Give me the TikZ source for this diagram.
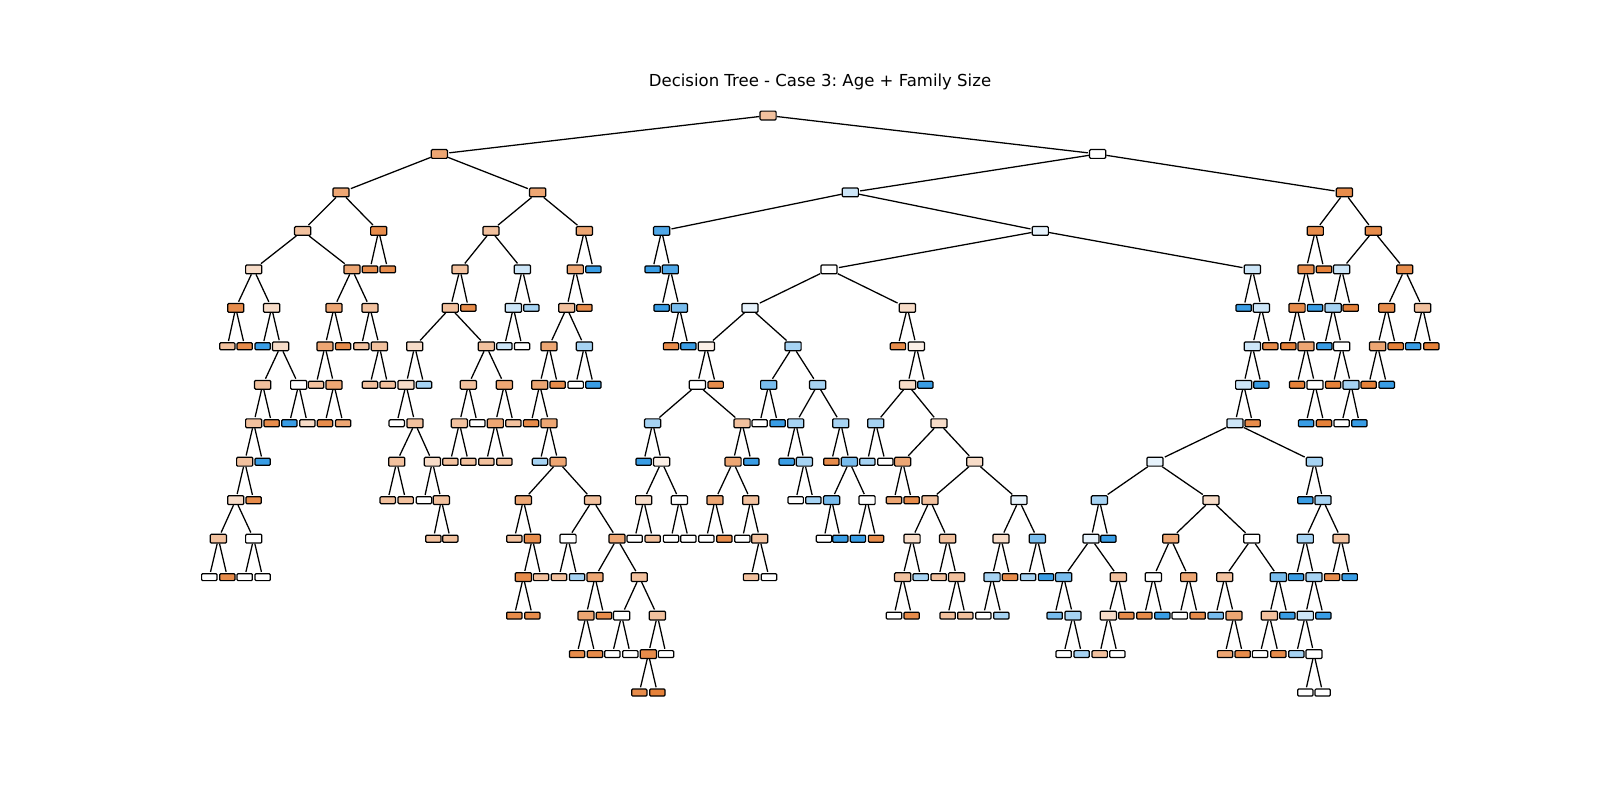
\documentclass[tikz,border=0pt]{standalone}
\usepackage{fontspec}
\setmainfont{DejaVu Sans}
\frenchspacing
\definecolor{oA}{RGB}{229,129,57}
\definecolor{oB}{RGB}{231,140,75}
\definecolor{oC}{RGB}{237,166,115}
\definecolor{oD}{RGB}{242,193,158}
\definecolor{oE}{RGB}{247,220,200}
\definecolor{oF}{RGB}{252,240,231}
\definecolor{wW}{RGB}{255,255,255}
\definecolor{bF}{RGB}{231,243,252}
\definecolor{bE}{RGB}{205,230,248}
\definecolor{bD}{RGB}{166,211,243}
\definecolor{bC}{RGB}{120,188,237}
\definecolor{bB}{RGB}{80,168,232}
\definecolor{bA}{RGB}{57,157,229}
\tikzset{
  inn/.style={draw=black, line width=1.2pt, rounded corners=1pt, minimum width=15.8pt, minimum height=8.6pt, inner sep=0pt},
  lf/.style={draw=black, line width=1.2pt, rounded corners=1pt, minimum width=15pt, minimum height=6.8pt, inner sep=0pt},
  edge/.style={line width=1.25pt, shorten >=1.2pt}
}
\newcommand\TN[6]{%
  \node[#6, fill=#5] (#1) at (#3,{113.2+37.7*#4}) {};
  \draw[edge] (#2) -- (#1);}
\begin{document}
\begin{tikzpicture}[x=1pt,y=-1pt]
\useasboundingbox[fill=white] (0,0) rectangle (1568,784);
\node[anchor=base, font=\fontsize{16.2}{19}\selectfont] (title) at (803.6,84.6) {Decision Tree - Case 3: Age + Family Size};
\node[inn, fill=oD] (r) at (752.7,113.2) {};
\TN{a}{r}{430.6}{1}{oC}{inn}
\TN{b}{r}{1075.7}{1}{wW}{inn}
% ---- a subtree
\TN{aa}{a}{334.2}{2}{oC}{inn}
\TN{ab}{a}{526.9}{2}{oC}{inn}
\TN{aaa}{aa}{296.6}{3}{oD}{inn}
\TN{aab}{aa}{371.1}{3}{oB}{inn}
\TN{aab1}{aab}{362.6}{4}{oB}{lf}
\TN{aab2}{aab}{380}{4}{oB}{lf}
\TN{aaaa}{aaa}{248.6}{4}{oE}{inn}
\TN{aaab}{aaa}{345}{4}{oC}{inn}
\TN{d1}{aaaa}{231}{5}{oB}{inn}
\TN{d2}{aaaa}{266.2}{5}{oE}{inn}
\TN{d11}{d1}{222.8}{6}{oD}{lf}
\TN{d12}{d1}{239.8}{6}{oB}{lf}
\TN{d21}{d2}{257.4}{6}{bA}{lf}
\TN{d22}{d2}{275}{6}{oE}{inn}
\TN{d221}{d22}{257.4}{7}{oD}{inn}
\TN{d222}{d22}{292.7}{7}{wW}{inn}
\TN{d2211}{d221}{248.6}{8}{oD}{inn}
\TN{d2212}{d221}{266.2}{8}{oB}{lf}
\TN{d2221}{d222}{283.6}{8}{bA}{lf}
\TN{d2222}{d222}{301.2}{8}{oE}{lf}
\TN{e1}{d2211}{239.8}{9}{oD}{inn}
\TN{e2}{d2211}{257.4}{9}{bA}{lf}
\TN{e11}{e1}{231}{10}{oE}{inn}
\TN{e12}{e1}{248.6}{10}{oB}{lf}
\TN{e111}{e11}{214}{11}{oD}{inn}
\TN{e112}{e11}{248.6}{11}{wW}{inn}
\TN{e1111}{e111}{205.1}{12}{wW}{lf}
\TN{e1112}{e111}{222.8}{12}{oB}{lf}
\TN{e1121}{e112}{239.8}{12}{wW}{lf}
\TN{e1122}{e112}{257.4}{12}{wW}{lf}
\TN{f1}{aaab}{327.3}{5}{oC}{inn}
\TN{f2}{aaab}{362.6}{5}{oD}{inn}
\TN{f11}{f1}{318.5}{6}{oC}{inn}
\TN{f12}{f1}{336.2}{6}{oB}{lf}
\TN{f111}{f11}{309.7}{7}{oD}{lf}
\TN{f112}{f11}{327.3}{7}{oC}{inn}
\TN{f1121}{f112}{318.5}{8}{oB}{lf}
\TN{f1122}{f112}{336.2}{8}{oC}{lf}
\TN{f21}{f2}{354.1}{6}{oD}{lf}
\TN{f22}{f2}{371.8}{6}{oD}{inn}
\TN{f221}{f22}{362.6}{7}{oD}{lf}
\TN{f222}{f22}{380}{7}{oD}{lf}
\TN{aba}{ab}{481.2}{3}{oD}{inn}
\TN{abb}{ab}{572.7}{3}{oC}{inn}
\TN{abaa}{aba}{450.8}{4}{oD}{inn}
\TN{abab}{aba}{511.9}{4}{bE}{inn}
\TN{g1}{abaa}{441.3}{5}{oD}{inn}
\TN{g2}{abaa}{459}{5}{oB}{lf}
\TN{g11}{g1}{406.4}{6}{oE}{inn}
\TN{g12}{g1}{476.6}{6}{oD}{inn}
\TN{g111}{g11}{397.9}{7}{oE}{inn}
\TN{g112}{g11}{415.5}{7}{bD}{lf}
\TN{g1111}{g111}{388.8}{8}{wW}{lf}
\TN{g1112}{g111}{406.7}{8}{oD}{inn}
\TN{g11121}{g1112}{388.8}{9}{oD}{inn}
\TN{g11122}{g1112}{423.7}{9}{oE}{inn}
\TN{h1}{g11121}{380}{10}{oD}{lf}
\TN{h2}{g11121}{397.6}{10}{oD}{lf}
\TN{h3}{g11122}{415.5}{10}{wW}{lf}
\TN{h4}{g11122}{432.5}{10}{oD}{inn}
\TN{h41}{h4}{424.7}{11}{oD}{lf}
\TN{h42}{h4}{441.3}{11}{oD}{lf}
\TN{g121}{g12}{459}{7}{oD}{inn}
\TN{g122}{g12}{494.3}{7}{oC}{inn}
\TN{g1211}{g121}{450.2}{8}{oD}{inn}
\TN{g1212}{g121}{467.8}{8}{wW}{lf}
\TN{i1}{g1211}{441.3}{9}{oD}{lf}
\TN{i2}{g1211}{459}{9}{oD}{lf}
\TN{g1221}{g122}{485.4}{8}{oC}{inn}
\TN{g1222}{g122}{503.1}{8}{oD}{lf}
\TN{i3}{g1221}{476.6}{9}{oD}{lf}
\TN{i4}{g1221}{494.3}{9}{oD}{lf}
\TN{j1}{abab}{503.1}{5}{bE}{inn}
\TN{j2}{abab}{520.7}{5}{bD}{lf}
\TN{j11}{j1}{494.3}{6}{bE}{lf}
\TN{j12}{j1}{511.6}{6}{wW}{lf}
\TN{abba}{abb}{563.8}{4}{oC}{inn}
\TN{abbb}{abb}{581.5}{4}{bA}{lf}
\TN{k1}{abba}{555.4}{5}{oD}{inn}
\TN{k2}{abba}{572.7}{5}{oB}{lf}
\TN{k11}{k1}{538}{6}{oC}{inn}
\TN{k12}{k1}{572.7}{6}{bD}{inn}
\TN{k121}{k12}{564.2}{7}{wW}{lf}
\TN{k122}{k12}{581.5}{7}{bA}{lf}
\TN{k111}{k11}{528.9}{7}{oC}{inn}
\TN{k112}{k11}{546.5}{7}{oB}{lf}
\TN{k1111}{k111}{520.4}{8}{oB}{lf}
\TN{k1112}{k111}{538}{8}{oC}{inn}
\TN{m1}{k1112}{529.2}{9}{bD}{lf}
\TN{m2}{k1112}{546.9}{9}{oC}{inn}
\TN{m21}{m2}{512.9}{10}{oC}{inn}
\TN{m22}{m2}{580.8}{10}{oD}{inn}
\TN{m211}{m21}{504}{11}{oD}{lf}
\TN{m212}{m21}{521.7}{11}{oB}{inn}
\TN{m2121}{m212}{512.9}{12}{oB}{inn}
\TN{m2122}{m212}{530.2}{12}{oD}{lf}
\TN{m21211}{m2121}{504}{13}{oB}{lf}
\TN{m21212}{m2121}{521.7}{13}{oB}{lf}
\TN{m221}{m22}{556.7}{11}{wW}{inn}
\TN{m222}{m22}{604.7}{11}{oC}{inn}
\TN{m2211}{m221}{547.8}{12}{oD}{lf}
\TN{m2212}{m221}{565.5}{12}{bD}{lf}
\TN{m2221}{m222}{583.1}{12}{oC}{inn}
\TN{m2222}{m222}{626.5}{12}{oD}{inn}
\TN{n1}{m2221}{574.3}{13}{oC}{inn}
\TN{n2}{m2221}{591.9}{13}{oB}{lf}
\TN{n11}{n1}{565.5}{14}{oB}{lf}
\TN{n12}{n1}{583.1}{14}{oB}{lf}
\TN{n3}{m2222}{609.2}{13}{wW}{inn}
\TN{n4}{m2222}{644.2}{13}{oD}{inn}
\TN{n31}{n3}{600.1}{14}{wW}{lf}
\TN{n32}{n3}{617.7}{14}{wW}{lf}
\TN{n41}{n4}{635.4}{14}{oB}{inn}
\TN{n42}{n4}{652.7}{14}{wW}{lf}
\TN{n411}{n41}{626.5}{15}{oB}{lf}
\TN{n412}{n41}{644.2}{15}{oA}{lf}
% ---- b subtree
\TN{ba}{b}{833.3}{2}{bE}{inn}
\TN{bb}{b}{1317.5}{2}{oB}{inn}
\TN{baa}{ba}{648.4}{3}{bB}{inn}
\TN{bab}{ba}{1019.5}{3}{bF}{inn}
\TN{baa1}{baa}{639.6}{4}{bA}{lf}
\TN{baa2}{baa}{656.9}{4}{bB}{inn}
\TN{baa21}{baa2}{648.4}{5}{bA}{lf}
\TN{baa22}{baa2}{665.8}{5}{bC}{inn}
\TN{baa221}{baa22}{657.6}{6}{oB}{lf}
\TN{baa222}{baa22}{674.6}{6}{bA}{lf}
\TN{baba}{bab}{812.4}{4}{wW}{inn}
\TN{babb}{bab}{1227.3}{4}{bE}{inn}
\TN{p1}{baba}{735}{5}{bF}{inn}
\TN{p2}{baba}{889.2}{5}{oE}{inn}
\TN{p11}{p1}{692.2}{6}{oF}{inn}
\TN{p12}{p1}{777.2}{6}{bD}{inn}
\TN{p111}{p11}{683.4}{7}{wW}{inn}
\TN{p112}{p11}{701.4}{7}{oB}{lf}
\TN{p1111}{p111}{639.6}{8}{bD}{inn}
\TN{p1112}{p111}{727.2}{8}{oD}{inn}
\TN{q1}{p1111}{630.8}{9}{bA}{lf}
\TN{q2}{p1111}{648.4}{9}{oF}{inn}
\TN{q21}{q2}{630.8}{10}{oE}{inn}
\TN{q22}{q2}{665.8}{10}{wW}{inn}
\TN{q211}{q21}{622}{11}{wW}{lf}
\TN{q212}{q21}{639.6}{11}{oD}{lf}
\TN{q221}{q22}{657.6}{11}{wW}{lf}
\TN{q222}{q22}{674.6}{11}{wW}{lf}
\TN{q3}{p1112}{718.4}{9}{oC}{inn}
\TN{q4}{p1112}{736.3}{9}{bA}{lf}
\TN{q31}{q3}{700.7}{10}{oC}{inn}
\TN{q32}{q3}{735.7}{10}{oD}{inn}
\TN{q311}{q31}{692.2}{11}{wW}{lf}
\TN{q312}{q31}{709.9}{11}{oB}{lf}
\TN{q321}{q32}{727.5}{11}{wW}{lf}
\TN{q322}{q32}{744.5}{11}{oD}{inn}
\TN{q3221}{q322}{736}{12}{oD}{lf}
\TN{q3222}{q322}{753.6}{12}{wW}{lf}
\TN{p121}{p12}{753.3}{7}{bC}{inn}
\TN{p122}{p12}{801.3}{7}{bD}{inn}
\TN{p1211}{p121}{744.5}{8}{wW}{lf}
\TN{p1212}{p121}{762.1}{8}{bA}{lf}
\TN{s1}{p122}{779.8}{8}{bD}{inn}
\TN{s2}{p122}{823.9}{8}{bD}{inn}
\TN{s11}{s1}{771}{9}{bA}{lf}
\TN{s12}{s1}{788.3}{9}{bD}{inn}
\TN{s121}{s12}{779.8}{10}{wW}{lf}
\TN{s122}{s12}{797.1}{10}{bD}{lf}
\TN{s21}{s2}{814.7}{9}{oB}{lf}
\TN{s22}{s2}{832.4}{9}{bC}{inn}
\TN{s221}{s22}{815}{10}{bC}{inn}
\TN{s222}{s22}{849.7}{10}{wW}{inn}
\TN{s2211}{s221}{807.5}{11}{wW}{lf}
\TN{s2212}{s221}{823.5}{11}{bA}{lf}
\TN{s2221}{s222}{840.8}{11}{bA}{lf}
\TN{s2222}{s222}{858.5}{11}{oB}{lf}
\TN{p21}{p2}{880}{6}{oB}{lf}
\TN{p22}{p2}{898}{6}{oF}{inn}
\TN{p221}{p22}{889.5}{7}{oE}{inn}
\TN{p222}{p22}{906.8}{7}{bA}{lf}
\TN{t1}{p221}{858.2}{8}{bD}{inn}
\TN{t2}{p221}{920.2}{8}{oE}{inn}
\TN{t11}{t1}{850}{9}{bD}{lf}
\TN{t12}{t1}{867.6}{9}{wW}{lf}
\TN{t21}{t2}{884.6}{9}{oC}{inn}
\TN{t22}{t2}{955.2}{9}{oE}{inn}
\TN{t211}{t21}{876.1}{10}{oC}{lf}
\TN{t212}{t21}{893.4}{10}{oB}{lf}
\TN{t221}{t22}{911.4}{10}{oD}{inn}
\TN{t222}{t22}{998.6}{10}{bF}{inn}
\TN{u1}{t221}{893.8}{11}{oE}{inn}
\TN{u2}{t221}{928.7}{11}{oD}{inn}
\TN{u11}{u1}{884.6}{12}{oD}{inn}
\TN{u12}{u1}{902.3}{12}{bD}{lf}
\TN{u111}{u11}{876.1}{13}{wW}{lf}
\TN{u112}{u11}{893.4}{13}{oB}{lf}
\TN{u21}{u2}{919.9}{12}{oD}{lf}
\TN{u22}{u2}{937.5}{12}{oD}{inn}
\TN{u221}{u22}{928.7}{13}{oD}{lf}
\TN{u222}{u22}{946}{13}{oD}{lf}
\TN{v1}{t222}{981}{11}{oE}{inn}
\TN{v2}{t222}{1016.6}{11}{bC}{inn}
\TN{v11}{v1}{972.2}{12}{bD}{inn}
\TN{v12}{v1}{989.8}{12}{oB}{lf}
\TN{v111}{v11}{963.7}{13}{wW}{lf}
\TN{v112}{v11}{981.3}{13}{bD}{lf}
\TN{v21}{v2}{1007.5}{12}{bD}{lf}
\TN{v22}{v2}{1025.1}{12}{bA}{lf}
\TN{w1}{babb}{1218.8}{5}{bA}{lf}
\TN{w2}{babb}{1236.1}{5}{bE}{inn}
\TN{w21}{w2}{1227.3}{6}{bE}{inn}
\TN{w22}{w2}{1244.9}{6}{oB}{lf}
\TN{w211}{w21}{1218.8}{7}{bE}{inn}
\TN{w212}{w21}{1236.1}{7}{bA}{lf}
\TN{w2111}{w211}{1210.3}{8}{bE}{inn}
\TN{w2112}{w211}{1227.6}{8}{oB}{lf}
\TN{P}{w2111}{1131.9}{9}{bF}{inn}
\TN{Q}{w2111}{1288.1}{9}{bD}{inn}
\TN{P1}{P}{1077.4}{10}{bD}{inn}
\TN{P2}{P}{1186.8}{10}{oE}{inn}
\TN{P11}{P1}{1069.2}{11}{bF}{inn}
\TN{P12}{P1}{1086.2}{11}{bA}{lf}
\TN{P111}{P11}{1042.4}{12}{bC}{inn}
\TN{P112}{P11}{1096}{12}{oD}{inn}
\TN{P1111}{P111}{1033.6}{13}{bC}{lf}
\TN{P1112}{P111}{1051.5}{13}{bD}{inn}
\TN{P11121}{P1112}{1042.4}{14}{wW}{lf}
\TN{P11122}{P1112}{1060}{14}{bD}{lf}
\TN{P1121}{P112}{1086.2}{13}{oE}{inn}
\TN{P1122}{P112}{1103.8}{13}{oB}{lf}
\TN{P11211}{P1121}{1077.7}{14}{oD}{lf}
\TN{P11212}{P1121}{1095}{14}{wW}{lf}
\TN{P21}{P2}{1147.3}{11}{oC}{inn}
\TN{P22}{P2}{1226.7}{11}{wW}{inn}
\TN{P211}{P21}{1130.3}{12}{wW}{inn}
\TN{P212}{P21}{1164.9}{12}{oC}{inn}
\TN{P2111}{P211}{1121.5}{13}{oB}{lf}
\TN{P2112}{P211}{1139.1}{13}{bA}{lf}
\TN{P2121}{P212}{1156.1}{13}{wW}{lf}
\TN{P2122}{P212}{1173.7}{13}{oB}{lf}
\TN{P221}{P22}{1200.2}{12}{oD}{inn}
\TN{P222}{P22}{1252.8}{12}{bC}{inn}
\TN{P2211}{P221}{1191.4}{13}{bC}{lf}
\TN{P2212}{P221}{1209.3}{13}{oC}{inn}
\TN{P22121}{P2212}{1200.5}{14}{oC}{lf}
\TN{P22122}{P2212}{1217.8}{14}{oB}{lf}
\TN{P2221}{P222}{1244}{13}{oD}{inn}
\TN{P2222}{P222}{1261.6}{13}{bA}{lf}
\TN{P22211}{P2221}{1234.8}{14}{wW}{lf}
\TN{P22212}{P2221}{1252.8}{14}{oB}{lf}
\TN{Q1}{Q}{1279.2}{10}{bA}{lf}
\TN{Q2}{Q}{1296.5}{10}{bD}{inn}
\TN{Q21}{Q2}{1279.2}{11}{bD}{inn}
\TN{Q22}{Q2}{1314.2}{11}{oD}{inn}
\TN{Q211}{Q21}{1270.1}{12}{bA}{lf}
\TN{Q212}{Q21}{1287.7}{12}{bD}{inn}
\TN{Q2121}{Q212}{1279.2}{13}{bE}{inn}
\TN{Q2122}{Q212}{1296.9}{13}{bA}{lf}
\TN{Q21211}{Q2121}{1270.4}{14}{bD}{lf}
\TN{Q21212}{Q2121}{1287.7}{14}{wW}{inn}
\TN{Q212121}{Q21212}{1279.2}{15}{wW}{lf}
\TN{Q212122}{Q21212}{1296.2}{15}{wW}{lf}
\TN{Q221}{Q22}{1305.4}{12}{oB}{lf}
\TN{Q222}{Q22}{1322.7}{12}{bA}{lf}
\TN{bba}{bb}{1289}{3}{oB}{inn}
\TN{bbb}{bb}{1345.9}{3}{oB}{inn}
\TN{bbaa}{bba}{1279.9}{4}{oB}{inn}
\TN{bbab}{bba}{1297.5}{4}{oA}{lf}
\TN{c1}{bbaa}{1271.1}{5}{oB}{inn}
\TN{c2}{bbaa}{1288.7}{5}{bA}{lf}
\TN{c11}{c1}{1262.6}{6}{oA}{lf}
\TN{c12}{c1}{1279.9}{6}{oC}{inn}
\TN{c121}{c12}{1271.1}{7}{oA}{lf}
\TN{c122}{c12}{1288.7}{7}{wW}{inn}
\TN{c1221}{c122}{1279.9}{8}{bA}{lf}
\TN{c1222}{c122}{1297.5}{8}{oA}{lf}
\TN{bbba}{bbb}{1314.8}{4}{bE}{inn}
\TN{bbbb}{bbb}{1376.6}{4}{oB}{inn}
\TN{c3}{bbba}{1306.4}{5}{bD}{inn}
\TN{c4}{bbba}{1323.7}{5}{oA}{lf}
\TN{c31}{c3}{1297.9}{6}{bA}{lf}
\TN{c32}{c3}{1314.8}{6}{wW}{inn}
\TN{c321}{c32}{1306.4}{7}{oA}{lf}
\TN{c322}{c32}{1324}{7}{bD}{inn}
\TN{c3221}{c322}{1314.8}{8}{wW}{lf}
\TN{c3222}{c322}{1332.2}{8}{bA}{lf}
\TN{c5}{bbbb}{1359}{5}{oB}{inn}
\TN{c6}{bbbb}{1394.2}{5}{oD}{inn}
\TN{c51}{c5}{1350.1}{6}{oC}{inn}
\TN{c52}{c5}{1367.8}{6}{oA}{lf}
\TN{c511}{c51}{1341.3}{7}{oA}{lf}
\TN{c512}{c51}{1359}{7}{bA}{lf}
\TN{c61}{c6}{1384.8}{6}{bA}{lf}
\TN{c62}{c6}{1402.7}{6}{oA}{lf}
\end{tikzpicture}
\end{document}
